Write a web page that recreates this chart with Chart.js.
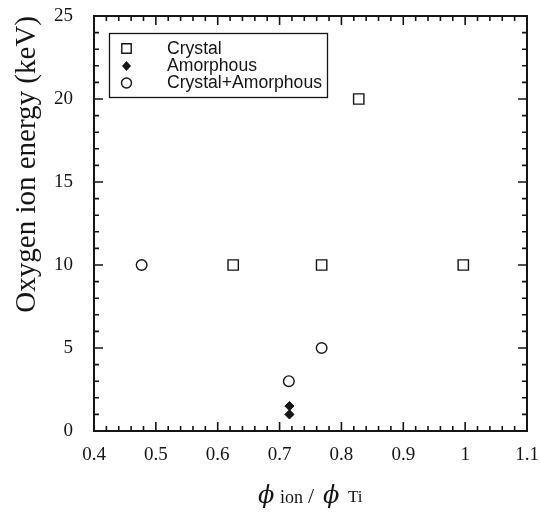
<!DOCTYPE html>
<html><head><meta charset="utf-8">
<script src="https://cdn.jsdelivr.net/npm/chart.js@4.4.0/dist/chart.umd.min.js"></script>
<style>html,body{margin:0;padding:0;background:#fff;}</style>
</head><body>
<canvas id="c" width="541" height="515"></canvas>
<script>
// ---- data ----
const seriesNames = ['Crystal', 'Amorphous', 'Crystal+Amorphous'];
const crystalX = [0.625, 0.768, 0.828, 0.997];
const crystalY = [10, 10, 20, 10];
const amorphousX = [0.716, 0.716];
const amorphousY = [1.5, 1.0];
const mixedX = [0.477, 0.715, 0.768];
const mixedY = [10, 3, 5];
const xTicks = [0.4, 0.5, 0.6, 0.7, 0.8, 0.9, 1.0, 1.1];
const xTickLabels = ['0.4', '0.5', '0.6', '0.7', '0.8', '0.9', '1', '1.1'];
const yTicks = [0, 5, 10, 15, 20, 25];
const yTickLabels = ['0', '5', '10', '15', '20', '25'];
const yTitle = 'Oxygen ion energy (keV)';

const toPts = (xs, ys) => xs.map((x, i) => ({x: x, y: ys[i]}));
const INK = '#151515';
const SERIF = "'Liberation Serif', 'Times New Roman', serif";
const PHI_FONT = "'DejaVu Serif', serif";

// frame + inward ticks on all four sides
const framePlugin = {
  id: 'frame',
  afterDatasetsDraw(chart) {
    const {ctx, chartArea: a, scales: {x, y}} = chart;
    ctx.save();
    ctx.strokeStyle = INK;
    ctx.lineWidth = 1.6;
    const MAJ = 9, MIN = 5, SUB = 5;
    const tick = (p, len, horiz) => {
      ctx.beginPath();
      if (horiz) {
        ctx.moveTo(p, a.bottom); ctx.lineTo(p, a.bottom - len);
        ctx.moveTo(p, a.top); ctx.lineTo(p, a.top + len);
      } else {
        ctx.moveTo(a.left, p); ctx.lineTo(a.left + len, p);
        ctx.moveTo(a.right, p); ctx.lineTo(a.right - len, p);
      }
      ctx.stroke();
    };
    xTicks.forEach((v, i) => {
      tick(x.getPixelForValue(v), MAJ, true);
      if (i < xTicks.length - 1) {
        const step = (xTicks[i + 1] - v) / SUB;
        for (let k = 1; k < SUB; k++) tick(x.getPixelForValue(v + k * step), MIN, true);
      }
    });
    yTicks.forEach((v, i) => {
      tick(y.getPixelForValue(v), MAJ, false);
      if (i < yTicks.length - 1) {
        const step = (yTicks[i + 1] - v) / SUB;
        for (let k = 1; k < SUB; k++) tick(y.getPixelForValue(v + k * step), MIN, false);
      }
    });
    ctx.lineWidth = 2;
    ctx.strokeRect(a.left, a.top, a.right - a.left, a.bottom - a.top);
    ctx.restore();
  }
};

// legend box inside the plot
const legendPlugin = {
  id: 'innerLegend',
  afterDraw(chart) {
    const {ctx} = chart;
    ctx.save();
    ctx.strokeStyle = INK;
    ctx.lineWidth = 1.3;
    ctx.strokeRect(109.5, 33.5, 218, 64);
    const rows = [48.5, 66, 83];
    ctx.font = "17.6px 'Liberation Sans', Arial, sans-serif";
    ctx.fillStyle = INK;
    ctx.textBaseline = 'middle';
    ctx.textAlign = 'left';
    chart.data.datasets.forEach((ds, i) => {
      const cy = rows[i], cx = 126.5;
      ctx.lineWidth = 1.4;
      ctx.beginPath();
      if (ds.pointStyle === 'rect') {
        ctx.rect(cx - 4.7, cy - 4.7, 9.4, 9.4);
        ctx.fillStyle = '#fff'; ctx.fill(); ctx.stroke();
      } else if (ds.pointStyle === 'rectRot') {
        ctx.moveTo(cx - 4.5, cy); ctx.lineTo(cx, cy - 5); ctx.lineTo(cx + 4.5, cy); ctx.lineTo(cx, cy + 5); ctx.closePath();
        ctx.fillStyle = INK; ctx.fill();
      } else {
        ctx.arc(cx, cy, 5, 0, Math.PI * 2);
        ctx.fillStyle = '#fff'; ctx.fill(); ctx.stroke();
      }
      ctx.fillStyle = INK;
      ctx.fillText(ds.label, 167, cy + 0.5);
    });
    ctx.restore();
  }
};

// x-axis title with subscripts
const xTitlePlugin = {
  id: 'xTitle',
  afterDraw(chart) {
    const {ctx} = chart;
    ctx.save();
    ctx.fillStyle = INK;
    ctx.textBaseline = 'alphabetic';
    ctx.textAlign = 'left';
    const base = 503;
    const parts = [
      {t: '\u03D5', f: "italic 24px " + PHI_FONT, x: 258, y: base},
      {t: 'ion', f: "18px " + SERIF, x: 280, y: base},
      {t: '/', f: "22px " + SERIF, x: 308, y: base},
      {t: '\u03D5', f: "italic 24px " + PHI_FONT, x: 323, y: base},
      {t: 'Ti', f: "17px " + SERIF, x: 348, y: base - 1}
    ];
    parts.forEach(p => { ctx.font = p.f; ctx.fillText(p.t, p.x, p.y); });
    ctx.restore();
  }
};

new Chart(document.getElementById('c'), {
  type: 'scatter',
  data: {
    datasets: [
      {label: seriesNames[0], data: toPts(crystalX, crystalY), pointStyle: 'rect', pointRadius: 7.3,
       borderColor: INK, backgroundColor: '#fff', borderWidth: 1.4},
      {label: seriesNames[1], data: toPts(amorphousX, amorphousY), pointStyle: 'rectRot', pointRadius: 4.6,
       borderColor: INK, backgroundColor: INK, borderWidth: 1},
      {label: seriesNames[2], data: toPts(mixedX, mixedY), pointStyle: 'circle', pointRadius: 5.3,
       borderColor: INK, backgroundColor: '#fff', borderWidth: 1.4}
    ]
  },
  options: {
    responsive: false,
    animation: false,
    devicePixelRatio: 1,
    layout: {padding: {top: 16, right: 14, left: 0, bottom: 0}},
    plugins: {legend: {display: false}, tooltip: {enabled: false}},
    scales: {
      x: {
        type: 'linear', min: 0.4, max: 1.1,
        afterBuildTicks: s => { s.ticks = xTicks.map(v => ({value: v})); },
        afterFit: s => { s.height = 84; s.paddingLeft = 0; s.paddingRight = 0; },
        grid: {display: false, drawTicks: false},
        border: {display: false},
        ticks: {callback: (v, i) => xTickLabels[i], font: {family: SERIF, size: 19}, color: INK,
                padding: 13, maxRotation: 0, autoSkip: false}
      },
      y: {
        type: 'linear', min: 0, max: 25,
        afterBuildTicks: s => { s.ticks = yTicks.map(v => ({value: v})); },
        afterFit: s => { s.width = 94; s.paddingTop = 0; s.paddingBottom = 0; },
        grid: {display: false, drawTicks: false},
        border: {display: false},
        ticks: {callback: (v, i) => yTickLabels[i], font: {family: SERIF, size: 19}, color: INK,
                padding: 21, autoSkip: false},
        title: {display: true, text: yTitle, font: {family: SERIF, size: 29}, color: INK,
                align: 'end', padding: {top: 10, bottom: 0}}
      }
    }
  },
  plugins: [framePlugin, legendPlugin, xTitlePlugin]
});
</script>
</body></html>
